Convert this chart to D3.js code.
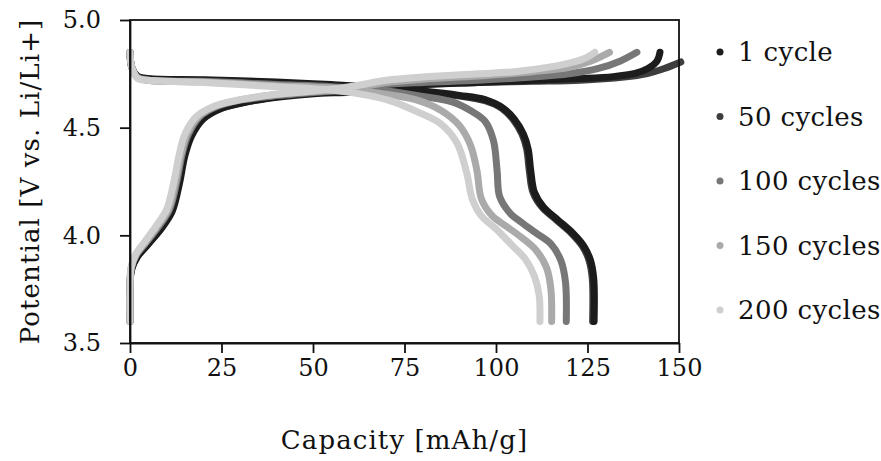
<!DOCTYPE html>
<html>
<head>
<meta charset="utf-8">
<script src="https://cdn.jsdelivr.net/npm/d3@7"></script>
<style>
  body { margin: 0; background: #fff; }
  text { font-family: "DejaVu Serif", serif; fill: #111; }
</style>
</head>
<body>
<div id="chart"></div>
<script>
// series labels + colours
const cycles = ['1 cycle', '50 cycles', '100 cycles', '150 cycles', '200 cycles'];
const colors = ['#1c1c1c', '#3e3e3e', '#777777', '#aaaaaa', '#cfcfcf'];

const xTicks = [0, 25, 50, 75, 100, 125, 150];
const yTicks = [3.5, 4.0, 4.5, 5.0];

// charge curves [capacity, potential]
const charge1 = [[0, 3.60], [0, 3.75], [0.4, 3.84], [2, 3.90], [5, 3.96], [8.5, 4.03], [11.5, 4.11], [13.5, 4.24], [15, 4.37], [16.8, 4.46], [20, 4.54], [25, 4.59], [32, 4.62], [42, 4.645], [52, 4.66], [60, 4.665], [70, 4.685], [80, 4.70], [95, 4.71], [110, 4.72], [122, 4.728], [132, 4.737], [138, 4.752], [141.5, 4.775], [144, 4.81], [144.8, 4.85]];
const charge50 = [[0, 3.60], [0, 3.75], [0.4, 3.84], [2, 3.90], [5, 3.96], [8.3, 4.03], [11.3, 4.11], [13.3, 4.24], [14.8, 4.37], [16.6, 4.46], [19.8, 4.54], [25, 4.59], [32, 4.62], [42, 4.648], [52, 4.662], [60, 4.67], [70, 4.69], [80, 4.70], [95, 4.71], [110, 4.715], [123, 4.72], [135, 4.735], [141, 4.75], [146, 4.775], [150.5, 4.805]];
const charge100 = [[0, 3.60], [0, 3.75], [0.4, 3.85], [1.8, 3.91], [4.6, 3.97], [7.8, 4.04], [10.8, 4.12], [12.8, 4.25], [14.3, 4.38], [16, 4.47], [19, 4.55], [24, 4.60], [31, 4.63], [41, 4.65], [51, 4.665], [60, 4.675], [70, 4.70], [80, 4.71], [95, 4.72], [110, 4.735], [120, 4.75], [128, 4.775], [134, 4.81], [138.5, 4.85]];
const charge150 = [[0, 3.60], [0, 3.75], [0.3, 3.85], [1.6, 3.91], [4.3, 3.97], [7.4, 4.04], [10.5, 4.12], [12.5, 4.25], [14, 4.38], [15.6, 4.47], [18.6, 4.55], [23.5, 4.60], [30.5, 4.63], [40.5, 4.655], [50, 4.668], [60, 4.68], [70, 4.71], [80, 4.725], [95, 4.74], [110, 4.76], [120, 4.78], [126, 4.81], [131, 4.85]];
const charge200 = [[0, 3.60], [0, 3.75], [0.3, 3.85], [1.5, 3.91], [4, 3.97], [7, 4.04], [10, 4.12], [12, 4.25], [13.5, 4.38], [15, 4.47], [18, 4.55], [23, 4.60], [30, 4.63], [40, 4.655], [50, 4.67], [60, 4.69], [70, 4.72], [80, 4.735], [95, 4.75], [105, 4.76], [114, 4.78], [120, 4.80], [124, 4.82], [127, 4.85]];

// discharge curves [capacity, potential]
const discharge1 = [[0, 4.85], [0.5, 4.78], [2, 4.74], [5, 4.728], [20, 4.722], [40, 4.712], [55, 4.70], [70, 4.685], [80, 4.67], [90, 4.65], [97, 4.63], [102, 4.59], [105, 4.54], [107.5, 4.47], [108.8, 4.40], [109.5, 4.30], [110.5, 4.20], [113, 4.13], [117, 4.07], [121, 4.01], [124, 3.95], [125.8, 3.885], [126.7, 3.80], [126.8, 3.60]];
const discharge50 = [[0, 4.85], [0.5, 4.78], [2, 4.74], [5, 4.725], [20, 4.72], [40, 4.708], [55, 4.697], [70, 4.682], [80, 4.667], [90, 4.647], [97, 4.625], [101.6, 4.59], [104.6, 4.54], [107.1, 4.47], [108.4, 4.40], [109.1, 4.30], [110.1, 4.20], [112.6, 4.13], [116.6, 4.07], [120.6, 4.01], [123.6, 3.95], [125.4, 3.885], [126.3, 3.80], [126.4, 3.60]];
const discharge100 = [[0, 4.85], [0.5, 4.78], [2, 4.735], [5, 4.72], [20, 4.715], [40, 4.70], [55, 4.69], [70, 4.67], [80, 4.645], [88, 4.62], [93, 4.58], [97, 4.53], [99.3, 4.44], [100.3, 4.30], [101, 4.18], [104, 4.10], [107, 4.06], [111, 4.01], [115, 3.96], [117.8, 3.88], [119, 3.78], [119.2, 3.60]];
const discharge150 = [[0, 4.85], [0.5, 4.78], [2, 4.732], [5, 4.72], [20, 4.712], [40, 4.695], [55, 4.685], [68, 4.66], [78, 4.63], [85, 4.58], [90, 4.51], [93, 4.42], [94.8, 4.30], [96, 4.17], [99, 4.09], [103, 4.04], [107, 3.99], [111, 3.93], [113.8, 3.85], [115, 3.75], [115.2, 3.60]];
const discharge200 = [[0, 4.85], [0.5, 4.78], [2, 4.73], [5, 4.72], [20, 4.71], [40, 4.69], [55, 4.675], [65, 4.65], [72, 4.62], [79, 4.57], [84.7, 4.52], [89.3, 4.43], [92, 4.29], [93.5, 4.17], [96, 4.09], [100, 4.03], [104.6, 3.95], [108, 3.89], [110.5, 3.81], [111.8, 3.72], [112, 3.60]];

const charges = [charge1, charge50, charge100, charge150, charge200];
const discharges = [discharge1, discharge50, discharge100, discharge150, discharge200];

const width = 881, height = 461;
const margin = { top: 20, right: 202, bottom: 118, left: 130 };
const plotW = width - margin.left - margin.right;
const plotH = height - margin.top - margin.bottom;

const svg = d3.select('#chart').append('svg')
    .attr('width', width)
    .attr('height', height);

const g = svg.append('g')
    .attr('transform', `translate(${margin.left},${margin.top})`);

const x = d3.scaleLinear().domain([0, 150]).range([0, plotW]);
const y = d3.scaleLinear().domain([3.5, 5.0]).range([plotH, 0]);

const line = d3.line()
    .x(d => x(d[0]))
    .y(d => y(d[1]))
    .curve(d3.curveCatmullRom.alpha(0.5));

// draw order: 50 under 1, then lighter on top
const order = [1, 0, 2, 3, 4];
order.forEach(i => {
    [charges[i], discharges[i]].forEach(s => {
        g.append('path')
            .datum(s)
            .attr('d', line)
            .attr('fill', 'none')
            .attr('stroke', colors[i])
            .attr('stroke-width', 7)
            .attr('stroke-linecap', 'round')
            .attr('stroke-linejoin', 'round');
    });
});

// frame
g.append('rect')
    .attr('width', plotW)
    .attr('height', plotH)
    .attr('fill', 'none')
    .attr('stroke', '#111')
    .attr('stroke-width', 1.8);

const xAxis = g.append('g')
    .attr('transform', `translate(0,${plotH})`)
    .call(d3.axisBottom(x).tickValues(xTicks).tickSize(10).tickSizeOuter(0).tickPadding(6));

const yAxis = g.append('g')
    .call(d3.axisLeft(y).tickValues(yTicks).tickSize(10).tickSizeOuter(0).tickPadding(19)
        .tickFormat(d3.format('.1f')));

[xAxis, yAxis].forEach(a => {
    a.select('.domain').attr('stroke', '#111').attr('stroke-width', 1.8);
    a.selectAll('.tick line').attr('stroke', '#111').attr('stroke-width', 1.8);
    a.selectAll('.tick text')
        .attr('font-family', '"DejaVu Serif", serif')
        .attr('font-size', 24)
        .attr('fill', '#111');
});

// axis titles
svg.append('text')
    .attr('x', margin.left + plotW / 2)
    .attr('y', 449)
    .attr('text-anchor', 'middle')
    .attr('font-size', 26)
    .attr('letter-spacing', 1.1)
    .text('Capacity [mAh/g]');

svg.append('text')
    .attr('transform', `translate(39,${margin.top + plotH / 2}) rotate(-90)`)
    .attr('text-anchor', 'middle')
    .attr('font-size', 26)
    .attr('letter-spacing', 1.1)
    .text('Potential [V vs. Li/Li+]');

// legend
const legend = svg.append('g')
    .attr('transform', 'translate(720,52)');

cycles.forEach((c, i) => {
    const row = legend.append('g')
        .attr('transform', `translate(0,${i * 64.5})`);
    row.append('circle')
        .attr('r', 3.5)
        .attr('fill', colors[i]);
    row.append('text')
        .attr('x', 18)
        .attr('dy', '0.35em')
        .attr('font-size', 26)
        .attr('letter-spacing', 0.4)
        .text(c);
});
</script>
</body>
</html>
